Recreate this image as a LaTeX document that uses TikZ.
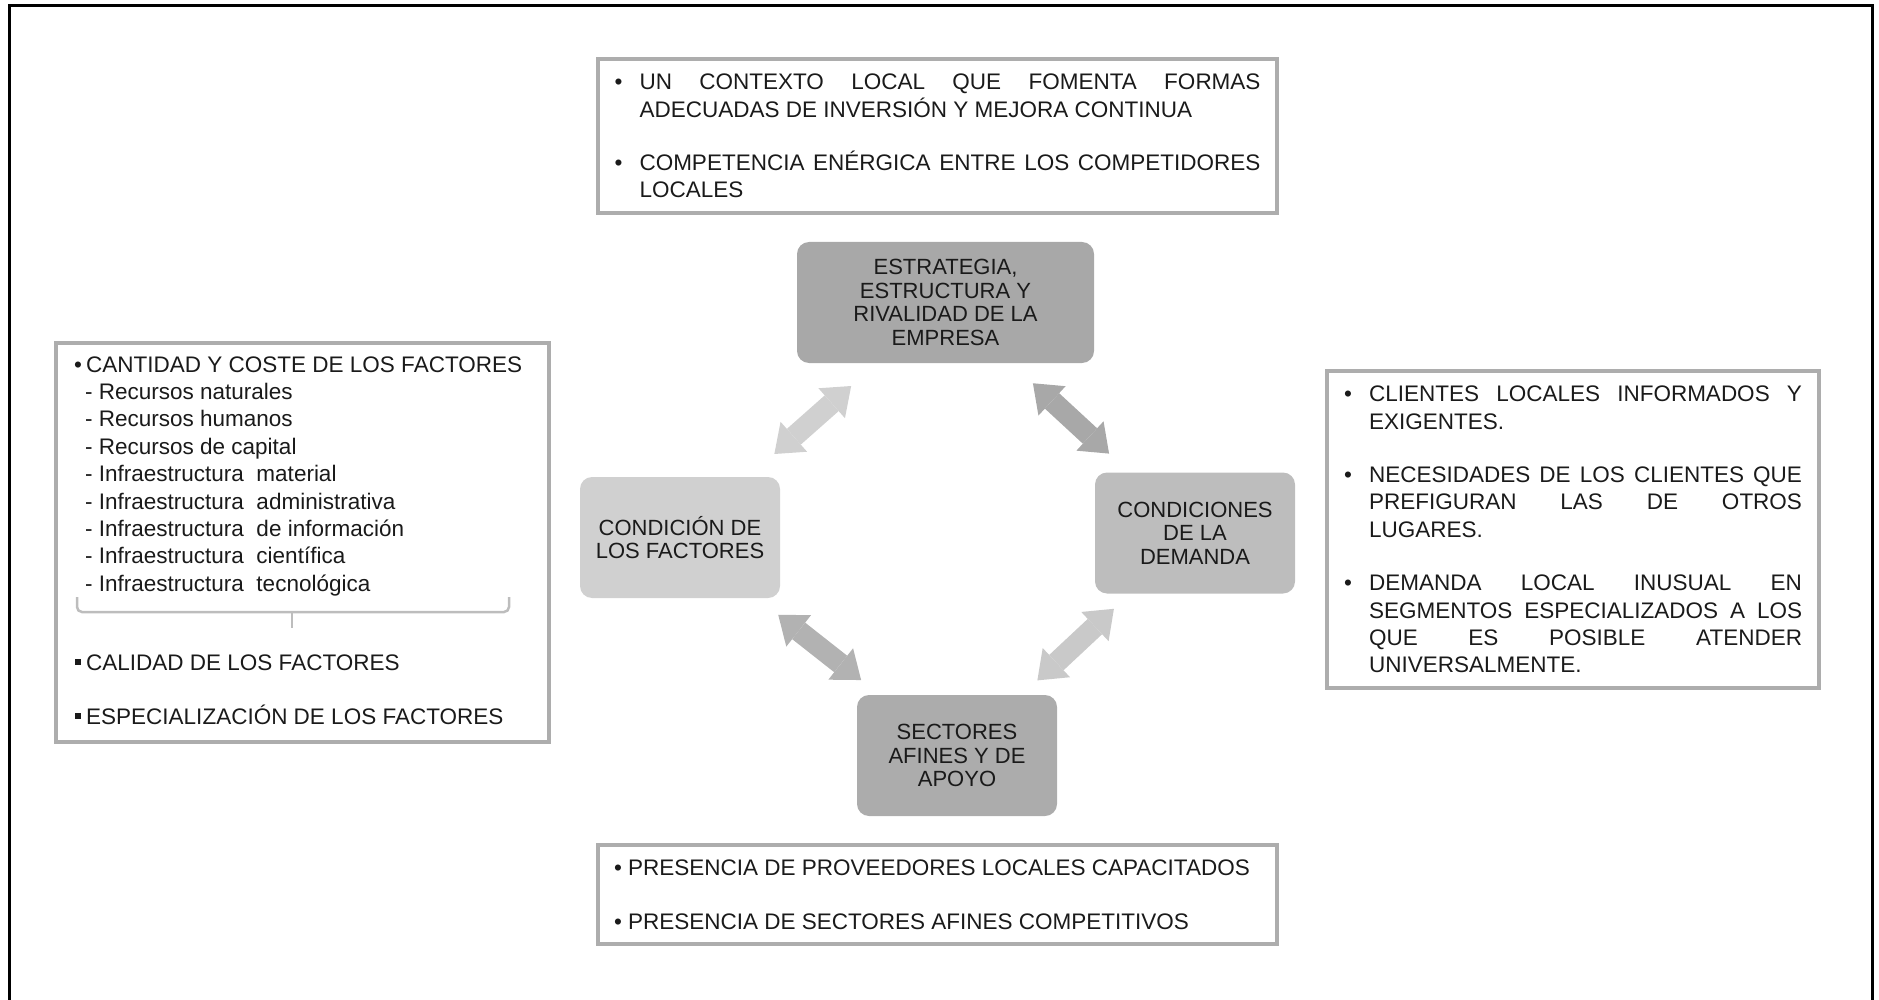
\documentclass[tikz,border=0pt]{standalone}
\usepackage{fontspec}
\setmainfont{Liberation Sans}
\usetikzlibrary{arrows.meta}

\definecolor{boxline}{HTML}{ADADAD}
\definecolor{stratfill}{HTML}{A8A8A8}
\definecolor{factfill}{HTML}{D0D0D0}
\definecolor{demfill}{HTML}{BDBDBD}
\definecolor{sectfill}{HTML}{ACACAC}
\definecolor{inktext}{HTML}{1A1A1A}

\newcommand{\boxitem}[1]{\par\noindent\hangindent=25pt\hangafter=1\makebox[25pt][l]{\textbullet}#1\par}
\newcommand{\itemgap}{\vskip 26pt}
\newcommand{\sqbul}{\makebox[11pt][l]{\rule[5pt]{6pt}{6pt}}}

\begin{document}
\begin{tikzpicture}[x=1pt, y=-1pt,
  corebox/.style={rounded corners=12pt, minimum width=200pt, minimum height=121pt,
    align=center, text=inktext, inner sep=4pt, font=\fontsize{22}{23.6}\selectfont},
  infobox/.style={draw=boxline, line width=3.5pt, inner sep=0pt, text=inktext,
    font=\fontsize{22.5}{27.4}\selectfont},
  boxtext/.style={inner sep=0pt, text=inktext, font=\fontsize{22.5}{27.4}\selectfont},
  pairarrow/.style={line width=21pt,
    {Triangle[length=26pt,width=40pt,line width=0pt]}-{Triangle[length=26pt,width=40pt,line width=0pt]}}
]
\useasboundingbox (0,0) rectangle (1879,1000);
\draw[line width=3pt] (9,6) rectangle (1872,1012);

% diamond of the four determinants
\node[corebox, fill=stratfill, minimum width=297pt] (estrategia) at (945.5,302.5)
  {ESTRATEGIA,\\ESTRUCTURA Y\\RIVALIDAD DE LA\\EMPRESA};
\node[corebox, fill=factfill] (factores) at (680,537.5) {CONDICIÓN DE\\LOS FACTORES};
\node[corebox, fill=demfill] (demanda) at (1195,533) {CONDICIONES\\DE LA\\DEMANDA};
\node[corebox, fill=sectfill] (sectores) at (957,755.5) {SECTORES\\AFINES Y DE\\APOYO};

\draw[pairarrow, draw=factfill, shorten <=126pt, shorten >=126pt] (factores.center) -- (estrategia.center);
\draw[pairarrow, draw=stratfill, shorten <=119pt, shorten >=117pt] (estrategia.center) -- (demanda.center);
\draw[pairarrow, draw=black!30, shorten <=125pt, shorten >=122pt] (factores.center) -- (sectores.center);
\draw[pairarrow, draw=black!21, shorten <=111pt, shorten >=110pt] (demanda.center) -- (sectores.center);

% text boxes
\node[infobox, minimum width=679pt, minimum height=154pt] (rivalbox) at (937.5,136) {\parbox{646pt}{%
  \boxitem{UN CONTEXTO LOCAL QUE FOMENTA FORMAS\linebreak ADECUADAS DE INVERSIÓN Y MEJORA CONTINUA}
  \itemgap
  \boxitem{COMPETENCIA ENÉRGICA ENTRE LOS COMPETIDORES\linebreak LOCALES}}};

\node[infobox, minimum width=492pt, minimum height=317pt] (demandbox) at (1573,529.5) {\parbox{458pt}{%
  \boxitem{CLIENTES LOCALES INFORMADOS Y\linebreak EXIGENTES.}
  \itemgap
  \boxitem{NECESIDADES DE LOS CLIENTES QUE\linebreak PREFIGURAN LAS DE OTROS\linebreak LUGARES.}
  \itemgap
  \boxitem{DEMANDA LOCAL INUSUAL EN\linebreak SEGMENTOS ESPECIALIZADOS A LOS\linebreak QUE ES POSIBLE ATENDER\linebreak UNIVERSALMENTE.}}};

\node[infobox, minimum width=679pt, minimum height=99pt] (apoyobox) at (937.5,894.5) {\parbox{647pt}{%
  \makebox[14pt][l]{\textbullet}PRESENCIA DE PROVEEDORES LOCALES CAPACITADOS\\[27pt]
  \makebox[14pt][l]{\textbullet}PRESENCIA DE SECTORES AFINES COMPETITIVOS}};

\node[infobox, minimum width=493pt, minimum height=399pt] (factbox) at (302.5,542.5) {};
\node[boxtext, anchor=base west] (cantidad) at (74,372) {\parbox[t]{460pt}{\raggedright
  \makebox[12pt][l]{\textbullet}CANTIDAD Y COSTE DE LOS FACTORES\\
  \hspace*{11pt}- Recursos naturales\\
  \hspace*{11pt}- Recursos humanos\\
  \hspace*{11pt}- Recursos de capital\\
  \hspace*{11pt}- Infraestructura\ \ material\\
  \hspace*{11pt}- Infraestructura\ \ administrativa\\
  \hspace*{11pt}- Infraestructura\ \ de información\\
  \hspace*{11pt}- Infraestructura\ \ científica\\
  \hspace*{11pt}- Infraestructura\ \ tecnológica}};
\draw[boxline!80, line width=2.5pt, rounded corners=5pt] (77,597) -- (77,612) -- (509,612) -- (509,597);
\draw[boxline!80, line width=2.5pt] (292,612) -- (292,628);
\node[boxtext, anchor=base west] (calidad) at (75,670) {\sqbul CALIDAD DE LOS FACTORES};
\node[boxtext, anchor=base west] (especial) at (75,724) {\sqbul ESPECIALIZACIÓN DE LOS FACTORES};
\end{tikzpicture}
\end{document}
